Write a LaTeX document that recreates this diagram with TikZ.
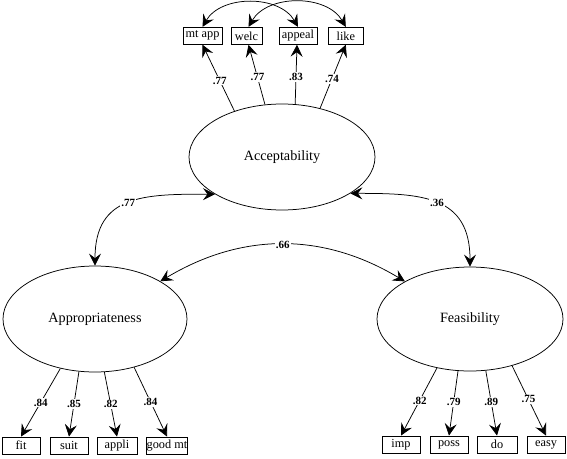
\documentclass[tikz,border=0pt]{standalone}
\usepackage{fontspec}
\setmainfont{Liberation Serif}
\usetikzlibrary{arrows.meta,shapes.geometric}
\begin{document}
\begin{tikzpicture}[x=1pt,y=-1pt,
  latent/.style={draw, ellipse, minimum width=186pt, minimum height=106pt, inner sep=0pt, font=\fontsize{14.2}{16}\selectfont, line width=0.75pt},
  obs/.style={draw, rectangle, minimum width=38pt, minimum height=17pt, inner sep=0.3pt, font=\fontsize{12.3}{14}\selectfont, line width=0.85pt},
  loadarrow/.style={-{Stealth[length=12pt,width=12pt,inset=4.5pt]}, line width=0.75pt},
  cov/.style={{Stealth[length=12pt,width=12pt,inset=4.5pt]}-{Stealth[length=12pt,width=12pt,inset=4.5pt]}, line width=0.75pt},
  coef/.style={fill=white, inner sep=1pt, font=\bfseries\fontsize{11}{12}\selectfont}
]
\useasboundingbox (0,0) rectangle (567,458);

% latent variables
\node[latent] (acc)  at (282,157) {Acceptability};
\node[latent, minimum width=184pt] (appr) at (95,319) {Appropriateness};
\node[latent, minimum height=104pt] (feas) at (470,319) {Feasibility};

% top indicators
\node[obs, minimum width=39pt] (mtapp)  at (202.5,35.8) {mt app};
\node[obs, minimum width=31pt] (welc)   at (246.5,35.8) {welc};
\node[obs, minimum width=38pt] (appeal) at (298,35.8) {appeal};
\node[obs, minimum width=35pt] (like)   at (345.8,35.8) {like};

% bottom-left indicators
\node[obs] (fit)    at (21,445.5) {fit};
\node[obs] (suit)   at (69,445.5) {suit};
\node[obs, minimum width=40pt] (appli)  at (117,445.5) {appli};
\node[obs] (goodmt) at (167,445.5) {good mt};

% bottom-right indicators
\node[obs] (imp)  at (401,444.5) {imp};
\node[obs] (poss) at (449,444.5) {poss};
\node[obs, minimum width=40pt] (do)   at (497,444.5) {do};
\node[obs] (easy) at (546,444.5) {easy};

% loadings: acceptability
\draw[loadarrow] (acc.136.2) -- (mtapp.south) node[coef, pos=0.46] {.77};
\draw[loadarrow] (acc.108.1) -- ([xshift=2pt]welc.south) node[coef, pos=0.46] {.77};
\draw[loadarrow] (acc.76) -- ([xshift=-1pt]appeal.south) node[coef, pos=0.46] {.83};
\draw[loadarrow] (acc.52.2) -- (like.south) node[coef, pos=0.46] {.74};

% loadings: appropriateness
\draw[loadarrow] (appr.-125.5) -- (fit.north) node[coef, pos=0.5] {.84};
\draw[loadarrow] (appr.-107.1) -- (suit.north) node[coef, pos=0.5] {.85};
\draw[loadarrow] (appr.-80.2) -- (appli.north) node[coef, pos=0.5] {.82};
\draw[loadarrow] (appr.-51.6) -- (goodmt.north) node[coef, pos=0.5] {.84};

% loadings: feasibility
\draw[loadarrow] (feas.-124.2) -- (imp.north) node[coef, pos=0.48] {.82};
\draw[loadarrow] (feas.-103.2) -- (poss.north) node[coef, pos=0.48] {.79};
\draw[loadarrow] (feas.-73.6) -- (do.north) node[coef, pos=0.48] {.89};
\draw[loadarrow] (feas.-48.1) -- (easy.north) node[coef, pos=0.48] {.75};

% error covariances among top indicators
\draw[cov] (mtapp.north) to[bend left=60] (appeal.north);
\draw[cov] ([xshift=2pt]welc.north) to[bend left=60] (like.north);

% factor covariances
\draw[cov] (acc.-151.8) to[out=180, in=90, looseness=1.3] node[coef] {.77} (appr.north);
\draw[cov] (acc.-28.5) to[out=0, in=90, looseness=1.3] node[coef] {.36} (feas.north);
\draw[cov] (appr.30.2) to[bend left=31] node[coef] {.66} (feas.150.4);
\end{tikzpicture}
\end{document}
